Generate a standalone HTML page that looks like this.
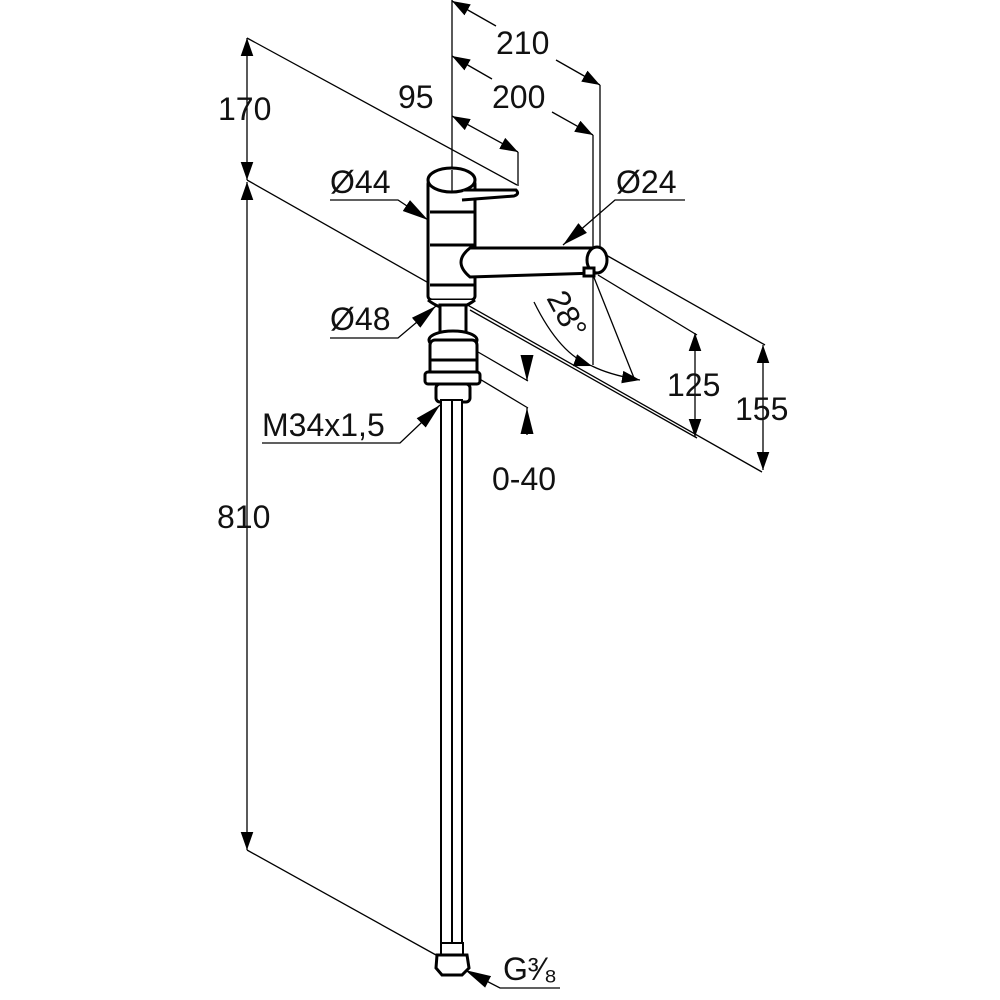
<!DOCTYPE html>
<html><head><style>body{margin:0;background:#fff}svg{display:block}text{font-family:"Liberation Sans",sans-serif;font-size:32px;fill:#111}</style></head>
<body>
<svg width="1000" height="1000" viewBox="0 0 1000 1000" xmlns="http://www.w3.org/2000/svg">
<defs>
<marker id="a" viewBox="0 0 10 10" refX="10" refY="5" markerWidth="18" markerHeight="18" markerUnits="userSpaceOnUse" orient="auto-start-reverse"><path d="M0,1.5L10,5L0,8.5z" fill="#000"/></marker>
<marker id="b" viewBox="0 0 10 10" refX="10" refY="5" markerWidth="26" markerHeight="26" markerUnits="userSpaceOnUse" orient="auto-start-reverse"><path d="M0,2.5L10,5L0,7.5z" fill="#000"/></marker>
</defs>
<g stroke="#000" stroke-width="1.3" fill="none">
<line x1="452" y1="0" x2="452" y2="180"/>
<line x1="600" y1="85" x2="600" y2="270"/>
<line x1="593" y1="135" x2="593" y2="365"/>
<line x1="518" y1="152" x2="518" y2="186"/>
<line x1="452" y1="1" x2="496" y2="26" marker-start="url(#a)"/>
<line x1="556" y1="60" x2="600" y2="85" marker-end="url(#a)"/>
<line x1="452" y1="56" x2="492" y2="79" marker-start="url(#a)"/>
<line x1="552" y1="112" x2="593" y2="135" marker-end="url(#a)"/>
<line x1="452" y1="116" x2="518" y2="152" marker-start="url(#a)" marker-end="url(#a)"/>
<line x1="247" y1="38" x2="247" y2="180" marker-start="url(#a)" marker-end="url(#a)"/>
<line x1="247" y1="182" x2="247" y2="850" marker-start="url(#a)" marker-end="url(#a)"/>
<line x1="247" y1="38" x2="517" y2="185"/>
<line x1="247" y1="180" x2="762" y2="472"/>
<line x1="247" y1="850" x2="445" y2="960"/>
<line x1="598" y1="275" x2="697" y2="335"/>
<line x1="606" y1="255" x2="765" y2="345"/>
<line x1="470" y1="310" x2="697" y2="438"/>
<line x1="695" y1="333" x2="695" y2="437" marker-start="url(#a)" marker-end="url(#a)"/>
<line x1="763" y1="345" x2="763" y2="470" marker-start="url(#a)" marker-end="url(#a)"/>
<line x1="478" y1="352" x2="528" y2="381"/>
<line x1="478" y1="378" x2="528" y2="408"/>
<line x1="527" y1="355" x2="527" y2="381" marker-end="url(#b)"/>
<line x1="527" y1="435" x2="527" y2="408" marker-end="url(#b)"/>
<line x1="593" y1="275" x2="634" y2="378"/>
<path d="M534,302 Q560,355 592,366" marker-end="url(#a)"/>
<path d="M592,366 Q610,375 640,380" marker-end="url(#a)"/>
<polyline points="330,200 398,200 428,220" marker-end="url(#b)"/>
<polyline points="330,338 398,338 436,306" marker-end="url(#b)"/>
<polyline points="262,443 400,443 440,405" marker-end="url(#b)"/>
<polyline points="685,200 615,200 563,245" marker-end="url(#b)"/>
<polyline points="560,988 500,988 465,970" marker-end="url(#b)"/>
</g>
<g stroke="#000" stroke-width="3" fill="#fff">
<rect x="428" y="180" width="47" height="120" rx="4"/>
<path d="M428,300 Q451,318 475,300"/>
<ellipse cx="451.5" cy="180" rx="23.5" ry="12"/>
<line x1="430" y1="212" x2="474" y2="212"/>
<line x1="430" y1="245" x2="474" y2="245"/>
<line x1="430" y1="285" x2="474" y2="285"/>
<path d="M462,200 L514,196 Q520,194 516,190 L464,190"/>
<path d="M597,248 L470,248 Q452,262 470,277 L597,273"/>
<ellipse cx="597" cy="260" rx="10" ry="13"/>
<rect x="584" y="268" width="10" height="8"/>
<rect x="440" y="305" width="26" height="28"/>
<ellipse cx="453" cy="340" rx="24" ry="9"/>
<rect x="430" y="340" width="47" height="40" rx="5"/>
<line x1="430" y1="360" x2="477" y2="360"/>
<rect x="425" y="372" width="55" height="12" rx="3"/>
<rect x="436" y="384" width="34" height="18" rx="4"/>
<rect x="441" y="400" width="11" height="550" stroke-width="2"/>
<rect x="452" y="400" width="10" height="550" stroke-width="2"/>
<rect x="441" y="943" width="22" height="12" stroke-width="2"/>
<path d="M437,955 L467,955 L469,968 L462,975 L442,975 L436,968 Z"/>
</g>
<line x1="452" y1="170" x2="452" y2="192" stroke="#000" stroke-width="1.3"/>
<text x="496" y="54">210</text>
<text x="492" y="108">200</text>
<text x="398" y="108">95</text>
<text x="218" y="120">170</text>
<text x="330" y="193">Ø44</text>
<text x="616" y="193">Ø24</text>
<text x="330" y="330">Ø48</text>
<text x="262" y="436">M34x1,5</text>
<text x="492" y="490">0-40</text>
<text x="667" y="396">125</text>
<text x="735" y="420">155</text>
<text x="217" y="528">810</text>
<text x="503" y="980">G³⁄₈</text>
<text x="0" y="0" transform="translate(546,298) rotate(62)">28°</text>
</svg>
</body></html>
